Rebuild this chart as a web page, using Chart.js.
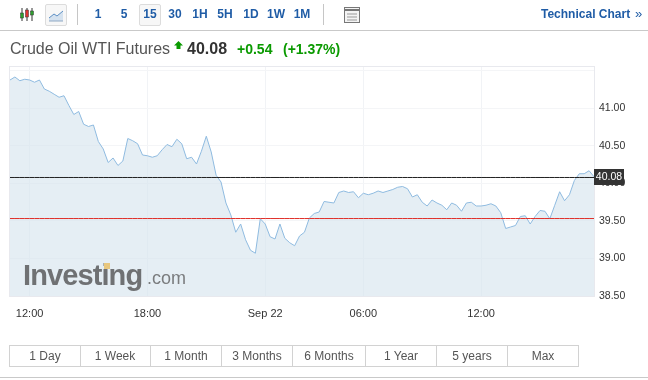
<!DOCTYPE html>
<html>
<head>
<meta charset="UTF-8">
<title>Crude Oil WTI Futures</title>
<script src="https://cdn.jsdelivr.net/npm/chart.js"></script>
<style>
    body { margin: 0; background: #fff; font-family: "Liberation Sans", Arial, sans-serif; }
    #page { position: relative; width: 648px; height: 380px; overflow: hidden; }
    #page div, #page svg { position: absolute; }
    canvas { position: absolute; left: 0; top: 0; }
    .hr { left: 0; width: 648px; height: 1px; background: #c9c9c9; }
    .sep { top: 4px; width: 1px; height: 21px; background: #c6c6c6; }
    .btn { top: 4px; height: 20px; width: 20px; border: 1px solid #dcdcdc; background: #f7f7f7; border-radius: 2px; }
    .t { top: 7px; width: 30px; text-align: center; font-size: 12px; font-weight: bold; color: #1f5ca6; line-height: 15px; }
    .r { top: 345px; height: 20px; border: 1px solid #d2d2d2; border-left: 0; text-align: center; font-size: 12px; line-height: 20px; color: #555; }
</style>
</head>
<body>
<div id="page">
    <canvas id="oilChart" width="648" height="380"></canvas>

    <svg style="left:19px;top:7px" width="16" height="15">
        <path d="M3 1V14M8 1V14M13 1V14" stroke="#333" stroke-width="1"/>
        <rect x="1.5" y="6" width="3" height="5" fill="#2ea02e" stroke="#333" stroke-width=".5"/>
        <rect x="6.5" y="3" width="3" height="7" fill="#d33" stroke="#333" stroke-width=".5"/>
        <rect x="11.5" y="4" width="3" height="4" fill="#2ea02e" stroke="#333" stroke-width=".5"/>
    </svg>
    <div class="btn" style="left:45px"></div>
    <svg style="left:48px;top:9px" width="17" height="13">
        <path d="M1 9L6 5L9 7L15 2V12H1Z" fill="#d5e2ef"/>
        <path d="M1 9L6 5L9 7L15 2" fill="none" stroke="#5c8fc4" stroke-width="1"/>
        <path d="M1 12H15" stroke="#8fa9c4" stroke-width="1"/>
    </svg>
    <div class="sep" style="left:77px"></div>
    <div class="btn" style="left:139px"></div>
    <div class="t" style="left:83px">1</div>
    <div class="t" style="left:109px">5</div>
    <div class="t" style="left:135px">15</div>
    <div class="t" style="left:160px">30</div>
    <div class="t" style="left:185px">1H</div>
    <div class="t" style="left:210px">5H</div>
    <div class="t" style="left:236px">1D</div>
    <div class="t" style="left:261px">1W</div>
    <div class="t" style="left:287px">1M</div>
    <div class="sep" style="left:323px"></div>
    <svg style="left:344px;top:7px" width="16" height="16">
        <rect x=".5" y=".5" width="15" height="15" fill="#f4f4f4" stroke="#777"/>
        <path d="M1 3H15" stroke="#777" stroke-width="2"/>
        <path d="M3 7H13M3 10H13M3 13H13" stroke="#999"/>
    </svg>
    <div style="left:541px;top:7px;font-size:12px;font-weight:bold;color:#1f5ca6;line-height:15px;white-space:nowrap">Technical Chart</div>
    <div style="left:635px;top:6px;font-size:13px;color:#1f5ca6;line-height:15px">»</div>
    <div class="hr" style="top:30px"></div>

    <div style="left:10px;top:40px;font-size:16px;color:#555;line-height:18px;white-space:nowrap">Crude Oil WTI Futures</div>
    <svg style="left:174px;top:41px" width="10" height="9"><path d="M4.5 0L9 4.5H6.5V8H2.5V4.5H0Z" fill="#0a9a00"/></svg>
    <div style="left:187px;top:40px;font-size:16px;font-weight:bold;color:#333;line-height:18px">40.08</div>
    <div style="left:237px;top:41px;font-size:14px;font-weight:bold;color:#0a9a00;line-height:17px">+0.54</div>
    <div style="left:283px;top:41px;font-size:14px;font-weight:bold;color:#0a9a00;line-height:17px;white-space:nowrap">(+1.37%)</div>

    <div style="left:23px;top:258px;font-size:29px;font-weight:bold;color:#6f7173;line-height:34px;letter-spacing:-0.9px;white-space:nowrap">Investing</div>
    <div style="left:147px;top:265px;font-size:18px;color:#7a7c7e;line-height:26px;white-space:nowrap">.com</div>
    <div style="left:104px;top:263px;width:6px;height:6px;background:#e8c77e"></div>

    <div class="r" style="left:9px;width:70px;border-left:1px solid #d2d2d2">1 Day</div>
    <div class="r" style="left:80px;width:70px">1 Week</div>
    <div class="r" style="left:151px;width:70px">1 Month</div>
    <div class="r" style="left:222px;width:70px">3 Months</div>
    <div class="r" style="left:293px;width:72px">6 Months</div>
    <div class="r" style="left:366px;width:70px">1 Year</div>
    <div class="r" style="left:437px;width:70px">5 years</div>
    <div class="r" style="left:508px;width:70px">Max</div>
    <div class="hr" style="top:377px"></div>
</div>

<script>
    // values, one point every 15 minutes
    const closes = [
        41.38, 41.42, 41.37, 41.39, 41.38, 41.35, 41.38, 41.26, 41.23, 41.19,
        41.15, 41.17, 41.04, 40.92, 40.96, 40.79, 40.76, 40.78, 40.56, 40.46,
        40.28, 40.34, 40.24, 40.30, 40.60, 40.57, 40.53, 40.38, 40.37, 40.35,
        40.37, 40.45, 40.52, 40.49, 40.59, 40.53, 40.33, 40.35, 40.26, 40.43,
        40.63, 40.42, 40.11, 40.02, 39.74, 39.58, 39.35, 39.46, 39.25, 39.11,
        39.07, 39.53, 39.46, 39.29, 39.26, 39.46, 39.27, 39.21, 39.17, 39.30,
        39.35, 39.54, 39.60, 39.62, 39.76, 39.75, 39.74, 39.88, 39.90, 39.88,
        39.89, 39.81, 39.87, 39.85, 39.87, 39.90, 39.88, 39.90, 39.92, 39.95,
        39.96, 39.93, 39.82, 39.85, 39.75, 39.70, 39.78, 39.74, 39.71, 39.65,
        39.74, 39.71, 39.63, 39.74, 39.75, 39.70, 39.70, 39.71, 39.73, 39.70,
        39.61, 39.40, 39.42, 39.44, 39.56, 39.57, 39.46, 39.56, 39.64, 39.63,
        39.53, 39.71, 39.89, 39.77, 39.85, 40.04, 40.13, 40.13, 40.17, 40.09
    ];
    const xTickIndex = [4, 28, 52, 72, 96];
    const xTickLabels = ['12:00', '18:00', 'Sep 22', '06:00', '12:00'];
    const yTicks = [38.5, 39, 39.5, 40, 40.5, 41, 41.5];
    const yHiddenLabels = [41.5];
    const lastPrice = 40.08;
    const prevClose = 39.533;
    const yMin = 38.5;
    const yMax = 41.5533;

    // frame round the plot and the dark price tag on the axis
    const framePlugin = {
        id: 'frame',
        beforeDatasetsDraw(chart) {
            const a = chart.chartArea, ctx = chart.ctx;
            ctx.save();
            ctx.strokeStyle = '#e8e9ee';
            ctx.lineWidth = 1;
            ctx.strokeRect(a.left - 0.5, a.top - 0.5, a.width + 1, a.height + 1);
            ctx.restore();
        },
        afterDraw(chart) {
            const a = chart.chartArea, ctx = chart.ctx;
            const y = Math.floor(chart.scales.y.getPixelForValue(lastPrice));
            ctx.save();
            ctx.fillStyle = '#333';
            ctx.fillRect(a.right, y - 8, 30, 16);
            ctx.fillStyle = '#fff';
            ctx.font = '10.5px "Liberation Sans"';
            ctx.textAlign = 'center';
            ctx.textBaseline = 'middle';
            ctx.fillText(lastPrice.toFixed(2), a.right + 15, y);
            ctx.restore();
        }
    };

    new Chart(document.getElementById('oilChart'), {
        type: 'line',
        data: {
            labels: closes.map((c, i) => i),
            datasets: [
                { data: closes.map(() => lastPrice), borderColor: '#222222', backgroundColor: '#222222', borderWidth: 1, pointRadius: 0, fill: false, order: 0 },
                { data: closes.map(() => prevClose), borderColor: '#e0302a', backgroundColor: '#e0302a', borderWidth: 1, pointRadius: 0, fill: false, order: 1 },
                { data: closes, borderColor: '#8fbbe0', borderWidth: 1, pointRadius: 0, tension: 0, fill: 'start', backgroundColor: 'rgba(213,227,237,0.62)', order: 2 }
            ]
        },
        plugins: [framePlugin],
        options: {
            responsive: false,
            animation: false,
            events: [],
            layout: { padding: { left: 10, top: 67, right: 0, bottom: 0 } },
            plugins: { legend: { display: false }, tooltip: { enabled: false } },
            scales: {
                x: {
                    grid: { color: '#f1f3f6', drawTicks: false },
                    border: { display: false },
                    afterBuildTicks(scale) { scale.ticks = xTickIndex.map(i => ({ value: i })); },
                    afterFit(scale) { scale.height = 84; },
                    ticks: {
                        autoSkip: false, maxRotation: 0, padding: 11,
                        color: '#333', font: { family: 'Liberation Sans', size: 11 },
                        callback: (v, i) => xTickLabels[i]
                    }
                },
                y: {
                    position: 'right', min: yMin, max: yMax,
                    grid: { color: '#f4f5f7', drawTicks: false },
                    border: { display: false },
                    afterBuildTicks(scale) { scale.ticks = yTicks.map(v => ({ value: v })); },
                    afterFit(scale) { scale.width = 54; },
                    ticks: {
                        padding: 5, color: '#333', font: { family: 'Liberation Sans', size: 10.5 },
                        callback: v => yHiddenLabels.includes(v) ? '' : v.toFixed(2)
                    }
                }
            }
        }
    });
</script>
</body>
</html>
